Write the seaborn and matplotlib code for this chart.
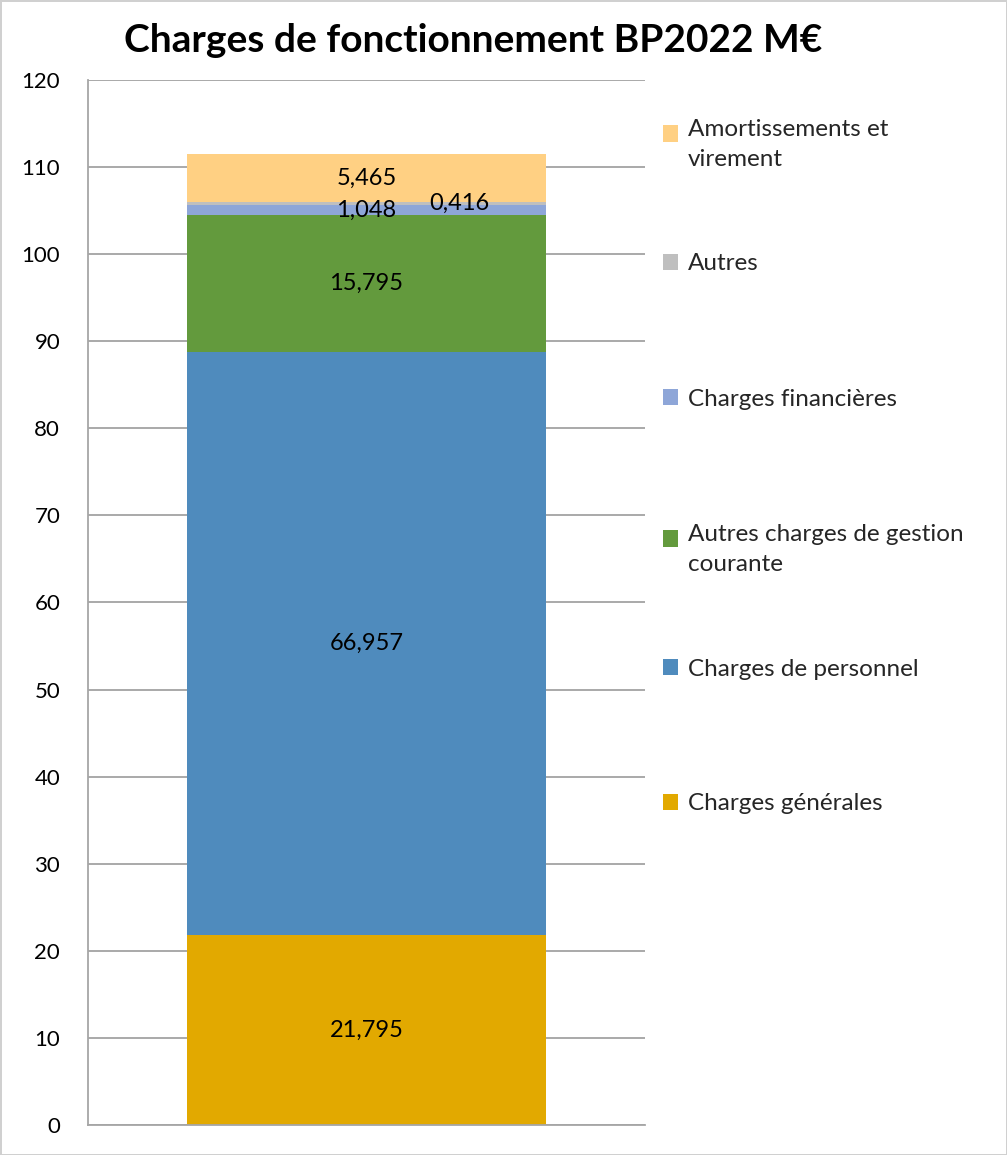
import matplotlib
matplotlib.use("Agg")
import matplotlib.pyplot as plt
import seaborn as sns
from matplotlib.legend_handler import HandlerPatch
from matplotlib.patches import Rectangle

# data (M€)
categories = ["Charges générales", "Charges de personnel",
              "Autres charges de gestion\ncourante", "Charges financières",
              "Autres", "Amortissements et\nvirement"]
values = [21.795, 66.957, 15.795, 1.048, 0.416, 5.465]
colors = ["#E2A900", "#4F8BBD", "#639A3D", "#8EA6D8", "#BFBFBF", "#FFD083"]
yticks = list(range(0, 121, 10))


class TopHandler(HandlerPatch):
    # put the square next to the first line of a multi-line label
    def __init__(self, shift_pt):
        super().__init__()
        self.shift_pt = shift_pt

    def create_artists(self, legend, orig_handle, xdescent, ydescent, width, height, fontsize, trans):
        src = orig_handle.patches[0] if hasattr(orig_handle, "patches") else orig_handle
        p = Rectangle((-xdescent, -ydescent + self.shift_pt), width, height,
                      facecolor=src.get_facecolor(), edgecolor="none", transform=trans)
        return [p]


sns.set_theme(style="white")
plt.rcParams["font.family"] = ["Lato", "DejaVu Sans"]

fig = plt.figure(figsize=(10.07, 11.55), dpi=100)
fig.patch.set_edgecolor("#D0D0D0")
fig.patch.set_linewidth(2)
ax = fig.add_axes([0.0874, 0.026, 0.5531, 0.9048])

bottom = 0.0
for name, v, c in zip(categories, values, colors):
    sns.barplot(x=[""], y=[v], bottom=bottom, color=c, width=0.645,
                saturation=1, ax=ax, label=name, linewidth=0)
    center = bottom + v / 2
    txt = f"{v:.3f}".replace(".", ",")
    if name == "Autres":
        ax.annotate(txt, xy=(0, center), xytext=(67, 0), textcoords="offset points",
                    ha="center", va="center", fontsize=17, color="black")
    else:
        ax.text(0, center, txt, ha="center", va="center", fontsize=17, color="black")
    bottom += v

if ax.get_legend() is not None:
    ax.get_legend().remove()

ax.set_xlim(-0.5, 0.5)
ax.set_ylim(0, 120)
ax.set_yticks(yticks)
ax.set_xticks([])
ax.set_xlabel("")
ax.set_ylabel("")
ax.yaxis.grid(True, color="#A3A3A3", linewidth=1.3)
ax.set_axisbelow(True)
ax.tick_params(axis="y", length=0, pad=20, labelsize=16, labelcolor="black")
for s in ["top", "right"]:
    ax.spines[s].set_visible(False)
for s in ["left", "bottom"]:
    ax.spines[s].set_color("#A6A6A6")
    ax.spines[s].set_linewidth(1.3)

# Excel-style legend: one entry every 135 px, top line aligned
handles, labels = ax.get_legend_handles_labels()
fig_h = fig.get_figheight() * fig.dpi
for i, (h, lab) in enumerate(zip(handles[::-1], labels[::-1])):
    nlines = lab.count("\n") + 1
    shift = (nlines - 1) * 15.5 / 2 * 72 / fig.dpi + (2 if nlines > 1 else 0)
    top_px = 128 + 135 * i - 9.5
    leg = fig.legend([h], [lab], loc="upper left",
                     bbox_to_anchor=(0.658, 1 - top_px / fig_h), frameon=False, fontsize=17.5,
                     handlelength=0.65, handleheight=0.65, handletextpad=0.4,
                     borderpad=0, borderaxespad=0,
                     handler_map={h: TopHandler(shift)})
    for t in leg.get_texts():
        t.set_linespacing(1.54)

fig.text(0.47, 0.965, "Charges de fonctionnement BP2022 M€", ha="center", va="center",
         fontsize=28, fontweight="bold", color="black")

fig.savefig("out.png", dpi=100)
